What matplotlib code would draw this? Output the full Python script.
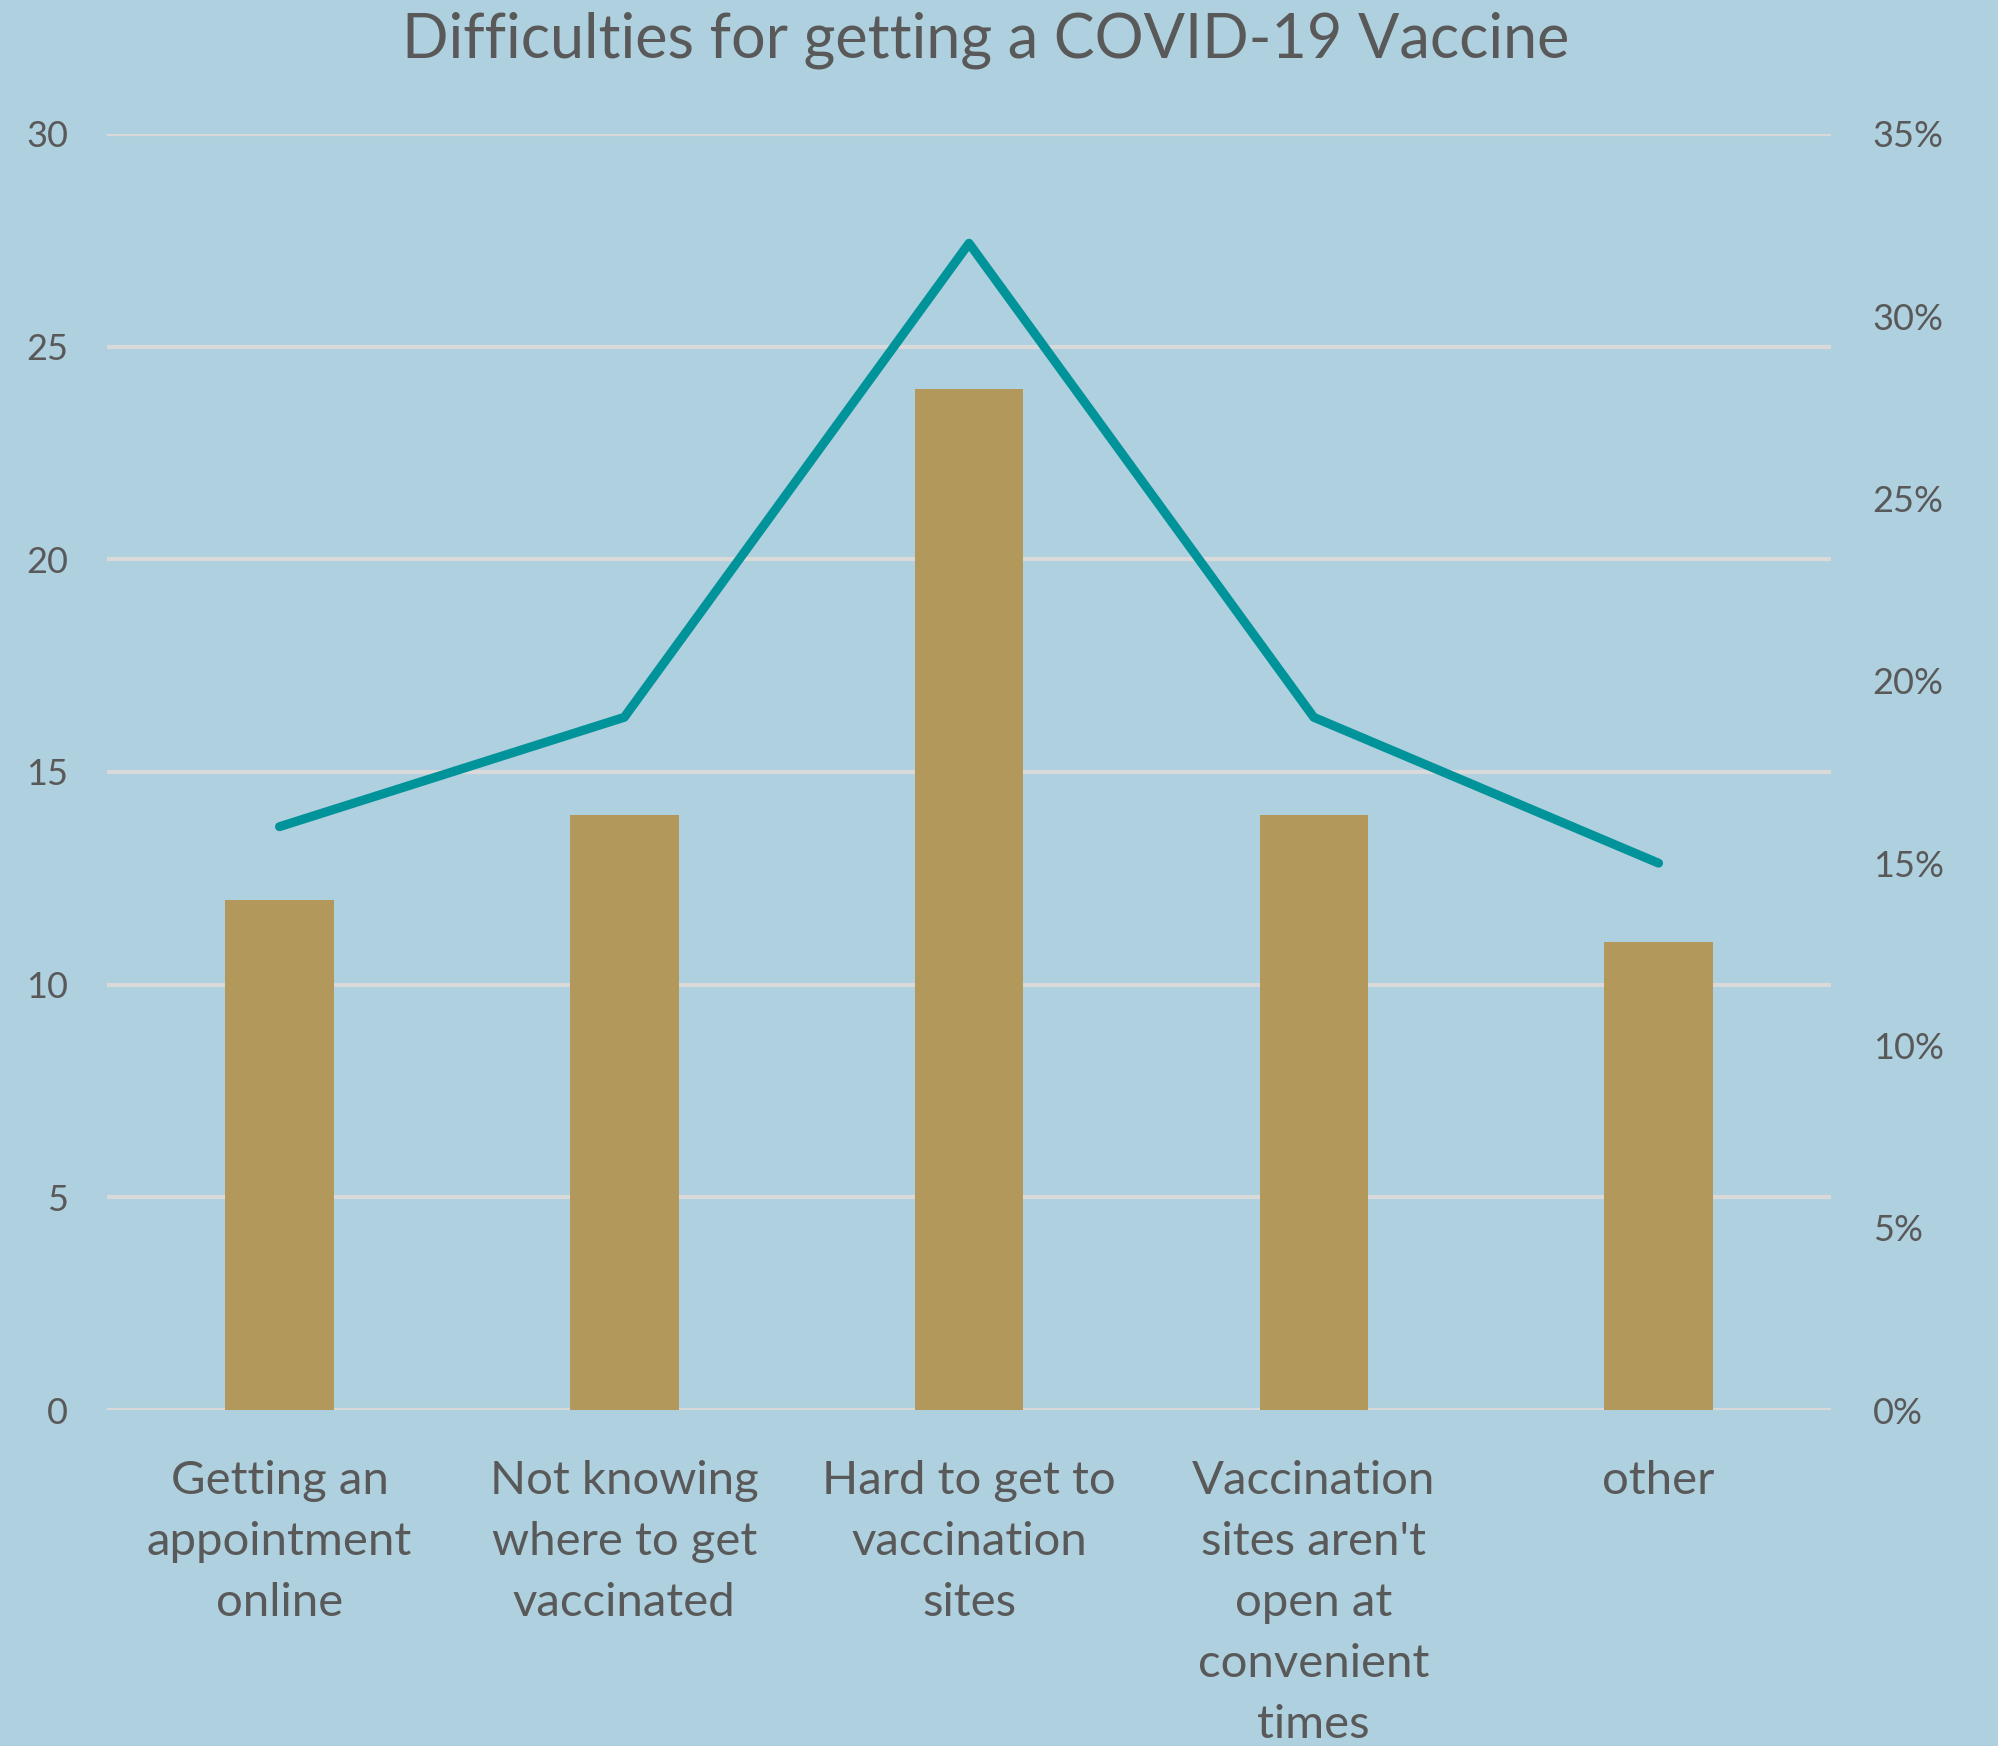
import matplotlib
matplotlib.use("Agg")
import matplotlib.pyplot as plt
from matplotlib.ticker import FuncFormatter, MultipleLocator

categories = ["Getting an\nappointment\nonline",
              "Not knowing\nwhere to get\nvaccinated",
              "Hard to get to\nvaccination\nsites",
              "Vaccination\nsites aren't\nopen at\nconvenient\ntimes",
              "other"]
counts = [12, 14, 24, 14, 11]
percents = [0.16, 0.19, 0.32, 0.19, 0.15]
title = "Difficulties for getting a COVID-19 Vaccine"

BG = "#AFD0DF"
BAR = "#B3985B"
LINE = "#00939A"
GRID = "#D9D9D9"
TXT = "#595959"

plt.rcParams['font.family'] = ['Lato', 'DejaVu Sans']

fig = plt.figure(figsize=(19.98, 17.46), dpi=100, facecolor=BG)
ax = fig.add_axes([0.0536, 0.1924, 0.8628, 0.7309])
ax.set_facecolor(BG)
x = list(range(len(categories)))
ax.bar(x, counts, width=0.315, color=BAR, zorder=3)
ax.set_xlim(-0.5, len(categories) - 0.5)
ax.set_ylim(0, 30)
ax.yaxis.set_major_locator(MultipleLocator(5))
ax.grid(axis='y', color=GRID, linewidth=3, zorder=0)
ax.set_axisbelow(True)
for s in ax.spines.values():
    s.set_visible(False)
ax.tick_params(axis='both', length=0)
ax.tick_params(axis='y', labelsize=26, labelcolor=TXT, pad=28)
ax.tick_params(axis='x', pad=36)
ax.set_xticks(x)
ax.set_xticklabels(categories, fontsize=34, color=TXT, va='top')

ax2 = ax.twinx()
ax2.plot(x, percents, color=LINE, linewidth=6.5, solid_capstyle='round', zorder=4)
ax2.set_ylim(0, 0.35)
ax2.yaxis.set_major_locator(MultipleLocator(0.05))
ax2.yaxis.set_major_formatter(FuncFormatter(lambda v, p: f"{v*100:.0f}%"))
for s in ax2.spines.values():
    s.set_visible(False)
ax2.tick_params(axis='y', length=0, labelsize=26, labelcolor=TXT, pad=30)

for lbl in ax.get_xticklabels():
    lbl.set_linespacing(1.56)

fig.text(0.4935, 0.977, title, ha='center', va='center', fontsize=44, color=TXT)

fig.savefig("out.png", dpi=100, facecolor=BG)
